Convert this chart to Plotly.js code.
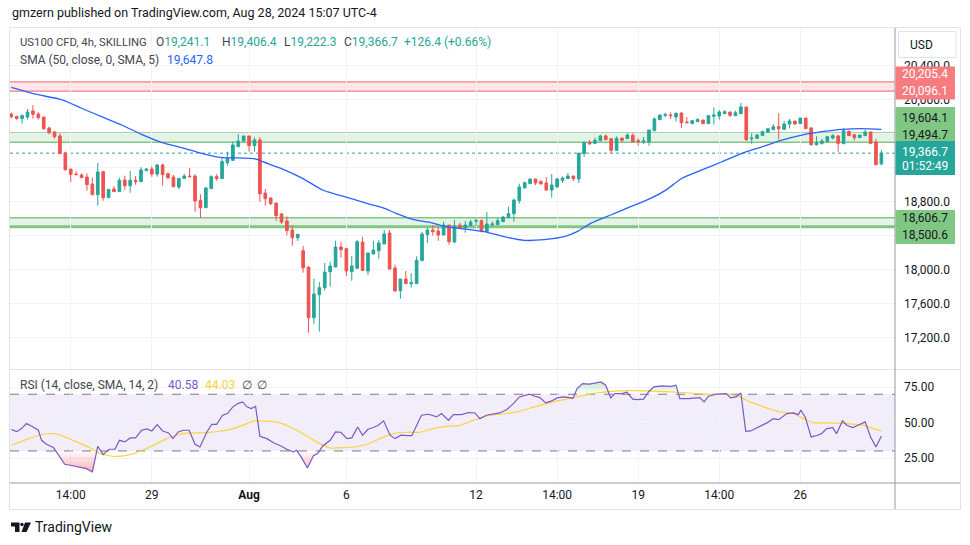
<!DOCTYPE html>
<html><head><meta charset="utf-8">
<script src="https://cdn.plot.ly/plotly-3.0.1.min.js"></script>
<style>html,body{margin:0;padding:0;background:#fff;}#chart{width:970px;height:545px;}</style>
</head><body><div id="chart"></div>
<script>
// ---------- DATA ----------
const opens = [19827,19800,19776,19792,19863,19827,19792,19663,19616,19569,
19369,19180,19121,19110,19086,19004,18878,19149,18843,18945,
18914,19051,18984,19047,19031,19161,19180,19121,19227,19125,
19086,18968,19070,19098,19098,18812,18725,18949,19090,19067,
19255,19282,19443,19510,19569,19455,19522,18898,18839,18780,
18651,18568,18463,18372,18219,18027,17431,17702,17784,17972,
18027,18263,18243,17972,18012,18321,17980,18180,18219,18298,
18427,18016,17749,17886,17831,17831,18102,18408,18463,18451,
18404,18521,18321,18521,18490,18514,18565,18572,18443,18525,
18525,18561,18608,18655,18808,18957,19008,19063,19031,19016,
18933,18969,19047,19067,19098,19063,19365,19494,19482,19514,
19569,19537,19400,19545,19537,19577,19514,19502,19502,19631,
19761,19812,19816,19792,19839,19733,19714,19737,19757,19714,
19800,19804,19831,19851,19808,19831,19910,19537,19541,19573,
19612,19643,19678,19647,19710,19745,19714,19780,19663,19467,
19482,19502,19545,19569,19478,19624,19584,19549,19573,19616,
19498,19241.1];
const highs = [19843,19800,19824,19886,19933,19851,19792,19678,19627,19600,
19384,19180,19153,19129,19129,19078,19251,19157,18941,18980,
19078,19102,19157,19098,19200,19192,19212,19239,19243,19137,
19110,19070,19125,19192,19118,18882,18968,19106,19121,19310,
19384,19502,19592,19569,19569,19553,19553,18945,18851,18780,
18663,18623,18521,18412,18274,18027,17890,17851,18074,18090,
18337,18321,18255,18157,18345,18384,18192,18337,18345,18463,
18463,18055,17886,17980,17953,18153,18443,18490,18521,18498,
18561,18521,18580,18549,18569,18580,18608,18588,18674,18565,
18604,18627,18737,18831,19008,19031,19063,19063,19051,19086,
19121,19074,19094,19133,19098,19372,19502,19522,19549,19584,
19588,19537,19565,19545,19600,19600,19541,19557,19639,19788,
19816,19843,19847,19847,19847,19792,19749,19780,19757,19816,
19906,19874,19874,19851,19867,19957,19910,19600,19592,19631,
19655,19710,19839,19745,19769,19745,19780,19780,19675,19565,
19537,19565,19592,19580,19659,19635,19584,19580,19643,19616,
19533,19406.4];
const lows = [19776,19761,19714,19765,19773,19761,19643,19588,19537,19361,
19157,19027,19114,19078,18925,18878,18749,18808,18843,18914,
18914,18937,18902,18996,19031,19161,19090,19090,18984,19063,
18972,18945,19070,19082,18678,18604,18725,18949,19043,19067,
19220,19275,19443,19502,19384,19384,18796,18749,18757,18572,
18533,18400,18278,18333,17961,17255,17357,17266,17749,17796,
18027,18137,17921,17866,18012,17980,17933,18180,18125,18298,
17996,17737,17655,17831,17784,17831,18102,18310,18396,18337,
18404,18290,18314,18474,18431,18514,18514,18443,18443,18502,
18525,18561,18608,18561,18773,18957,19008,18992,18992,18925,
18843,18961,19016,19067,19039,19016,19322,19467,19482,19514,
19525,19361,19400,19494,19537,19502,19455,19475,19455,19631,
19761,19792,19769,19737,19663,19725,19714,19737,19714,19714,
19702,19761,19831,19792,19808,19831,19510,19478,19541,19573,
19612,19643,19529,19643,19659,19702,19714,19655,19455,19455,
19467,19502,19529,19384,19478,19573,19514,19549,19573,19471,
19231,19222.3];
const closes = [19796,19773,19808,19851,19824,19784,19655,19608,19561,19361,
19172,19118,19114,19078,18996,18878,19145,18843,18941,18914,
19047,18984,19047,19031,19169,19180,19121,19227,19114,19078,
18972,19070,19098,19090,18804,18725,18957,19090,19067,19267,
19306,19463,19510,19569,19455,19522,18890,18831,18772,18631,
18557,18455,18372,18412,18019,17431,17710,17784,17968,18039,
18263,18231,17980,18039,18325,17988,18192,18227,18310,18416,
18004,17745,17886,17831,17843,18106,18416,18463,18443,18404,
18521,18325,18510,18490,18521,18557,18572,18443,18533,18533,
18572,18616,18655,18816,18969,19020,19063,19016,19008,18933,
18992,19063,19074,19098,19067,19365,19494,19475,19518,19569,
19525,19400,19541,19518,19580,19502,19502,19510,19639,19769,
19816,19820,19808,19835,19725,19725,19749,19761,19714,19808,
19816,19851,19855,19812,19843,19910,19525,19545,19580,19620,
19655,19678,19655,19710,19745,19710,19780,19655,19467,19490,
19510,19561,19573,19482,19631,19573,19549,19580,19616,19482,
19231,19366.7];

// SMA(50) line, read at bar positions
const smaIdx = [0,4.5,9.3,13.0,16.7,20.4,24.1,27.8,31.5,35.2,38.2,45.3,46.5,50.2,53.9,57.6,60.1,63.2,66.2,68.7,
71.2,74.3,77.3,80.4,83.8,87.5,91.2,94.9,98.6,102.3,104.7,107.2,110.9,114.6,118.3,121.2,124.1,127.8,131.5,135.2,
138.9,142.6,146.3,150.0,153.7,157.4,161];
const smaVal = [20140,20060,19996,19895,19796,19698,19588,19494,19431,19365,19321,19298,19266,19180,19071,18933,18883,18827,18768,18725,
18659,18589,18554,18502,18475,18443,18384,18341,18349,18384,18443,18541,18639,18737,18835,18935,19071,19169,19266,19365,
19442,19521,19580,19619,19647,19655,19647.8];

// RSI(14)
const rsiIdx = [0,1.0,1.9,2.8,3.8,5.0,5.6,6.5,7.8,8.7,
9.9,10.9,12.7,13.9,15.0,16.0,17.0,18.1,19.2,20.0,
21.0,22.0,23.0,24.1,25.1,26.0,27.0,28.0,29.1,29.9,
30.9,31.8,32.9,34.0,34.9,36.2,37.1,38.0,39.1,40.0,
41.0,41.9,42.8,43.6,44.4,45.2,46.0,47.3,48.6,50.0,
51.1,52.2,52.8,53.7,54.8,55.9,56.7,57.6,59.0,60.0,
61.0,62.1,63.0,64.1,65.0,66.0,67.0,67.9,68.9,70.1,
71.0,72.1,73.3,74.1,75.9,77.2,78.7,79.6,80.9,81.8,
83.3,84.6,85.8,
86.7,87.9,89.2,90.4,91.7,92.9,94.0,95.9,96.9,97.8,
98.9,100.0,101.0,102.2,103.3,103.9,104.7,105.7,107.0,108.0,
109.1,110.0,110.9,111.7,113.0,113.9,115.0,115.8,117.0,117.9,
118.9,120.3,121.6,122.2,123.0,123.7,125.3,126.5,127.4,128.2,
129.0,130.5,131.5,132.3,133.1,134.1,135.0,135.9,136.8,138.2,
139.8,141.0,142.0,143.5,144.7,145.6,146.1,146.9,148.0,149.2,
149.9,150.9,152.0,152.7,153.8,154.6,155.7,156.7,158.0,159.0,
160.0,161];
const rsiVal = [45.1,43.6,45.8,49.3,47.4,44.6,37.5,34.7,32.4,27.1,
20.6,19.9,18.7,17.5,15.2,33.3,27.4,31.2,31.2,37.5,
36.4,39.2,39.2,44.6,45.5,44.1,48.6,44.1,42.7,38.7,
43.4,44.6,44.6,34.7,32.8,43.4,48.8,48.8,55.2,56.4,
61.1,63.4,64.6,61.1,59.9,61.5,40.4,38.7,35.6,33.3,
30.9,29.3,30.5,25.3,18.0,26.7,28.1,33.3,37.5,43.4,
43.2,38.7,39.2,46.9,41.1,45.3,46.5,48.1,51.2,41.1,
38.7,41.1,40.8,40.8,55.2,55.9,54.0,56.4,51.6,55.6,
55.6,57.1,56.8,
52.8,55.2,55.9,56.8,59.2,63.4,68.1,70.0,68.6,67.6,
63.9,65.3,67.4,68.1,67.6,66.9,74.0,77.5,77.1,78.0,
78.7,76.4,67.4,70.5,70.5,71.4,66.5,66.2,66.5,71.6,
75.2,75.9,75.9,75.6,76.4,66.9,66.9,67.6,67.6,64.6,
68.6,70.0,70.5,70.5,67.4,68.1,70.9,43.9,44.1,46.5,
49.8,52.8,52.1,56.4,56.8,55.6,58.7,54.0,39.9,41.1,
42.2,45.8,46.5,42.2,51.2,48.1,46.5,48.1,50.5,39.9,
32.8,40.58];

// RSI-based MA
const maIdx = [0,2.8,5.9,7.8,9.6,12.1,14.6,16.4,18.9,21.4,
23.8,26.3,28.8,31.2,33.7,36.2,38.6,41.1,43.6,44.8,
47.3,49.1,51.6,54.0,56.5,59.0,61.5,63.3,65.8,68.2,
70.7,73.2,75.6,78.1,80.6,83.0,85.5,88.6,91.7,94.1,
97.2,100.9,104.6,108.3,112.6,117.6,122.5,126.8,129.9,132.7,
134.8,136.7,139.2,142.3,144.7,146.6,148.4,151.5,154.6,157.7,
159.5,161];
const maVal = [34.0,38.2,41.8,42.2,40.4,36.4,32.1,28.1,26.2,26.9,
29.8,34.0,38.7,41.8,42.7,42.9,43.9,45.8,49.3,51.2,
50.9,50.5,46.9,42.2,36.4,32.1,32.4,32.8,34.7,38.7,
42.2,43.2,43.2,45.8,47.4,48.1,51.6,55.2,56.4,58.2,
61.5,65.1,68.1,70.9,72.4,72.4,71.6,70.5,70.0,70.0,
68.1,64.6,61.1,57.5,56.4,52.8,50.0,49.8,49.3,48.1,
45.8,44.03];

// Levels drawn on the chart
const redZone = [20096.1, 20205.4];
const greenZoneHigh = [19494.7, 19604.1];
const greenZoneLow = [18500.6, 18606.7];
const lastPrice = 19366.7;

// Axis ticks (labels hidden by the price tags are left blank)
const timeTickIdx = [11, 26, 44, 62, 86, 101, 116, 131, 146];
const timeTickText = ['14:00', '29', '<b>Aug</b>', '6', '12', '14:00', '19', '14:00', '26'];
const priceTicks = [17200, 17600, 18000, 18400, 18800, 19200, 19600, 20000, 20400];
const priceTickText = ['17,200.0', '17,600.0', '18,000.0', '', '18,800.0', '', '', '20,000.0', '20,400.0'];
const rsiTicks = [25, 50, 75];

// Legend texts
const symbolText = 'US100 CFD, 4h, SKILLING';
const ohlcLabels = ['O', 'H', 'L', 'C'];
const ohlcText = ['19,241.1', '19,406.4', '19,222.3', '19,366.7'];
const changeText = '+126.4 (+0.66%)';
const smaLegend = 'SMA (50, close, 0, SMA, 5)';
const smaLast = '19,647.8';
const rsiLegend = 'RSI (14, close, SMA, 14, 2)';
const rsiLast = '40.58';
const maLast = '44.03';
const countdown = '01:52:49';

// ---------- HELPERS ----------
const W = 970, H = 545;
const px = x => x / W;
const py = y => 1 - y / H;
const fmt = v => v.toLocaleString('en-US', {minimumFractionDigits: 1, maximumFractionDigits: 1});
const barIdx = opens.map((_, i) => i);
const GREEN = '#26a69a', RED = '#ef5350';
const FONT = 'Roboto, "Open Sans", sans-serif';

function clipAt(xs, ys, level, below) {
  const X = [], Y = [];
  for (let i = 0; i < xs.length; i++) {
    if (i > 0) {
      const a = ys[i - 1], b = ys[i];
      if ((a - level) * (b - level) < 0) {
        const t = (level - a) / (b - a);
        X.push(xs[i - 1] + t * (xs[i] - xs[i - 1]));
        Y.push(level);
      }
    }
    X.push(xs[i]);
    Y.push(below ? Math.min(ys[i], level) : Math.max(ys[i], level));
  }
  return {X, Y};
}
const os = clipAt(rsiIdx, rsiVal, 30, true);
const ob = clipAt(rsiIdx, rsiVal, 70, false);

// ---------- TRACES ----------
const traces = [
  {type: 'candlestick', x: barIdx, open: opens, high: highs, low: lows, close: closes,
   xaxis: 'x', yaxis: 'y', hoverinfo: 'skip', whiskerwidth: 0,
   increasing: {line: {color: GREEN, width: 1}, fillcolor: GREEN},
   decreasing: {line: {color: RED, width: 1}, fillcolor: RED}},
  {type: 'scatter', mode: 'lines', x: smaIdx, y: smaVal, xaxis: 'x', yaxis: 'y',
   line: {color: '#2962ff', width: 1.3, shape: 'spline', smoothing: 0.6}, hoverinfo: 'skip'},
  // oversold fill
  {type: 'scatter', mode: 'lines', x: os.X, y: os.X.map(() => 30), xaxis: 'x', yaxis: 'y2',
   line: {width: 0, color: 'rgba(0,0,0,0)'}, hoverinfo: 'skip'},
  {type: 'scatter', mode: 'lines', x: os.X, y: os.Y, xaxis: 'x', yaxis: 'y2', fill: 'tonexty',
   fillcolor: 'rgba(242,54,69,0.25)',
   fillgradient: {type: 'vertical', start: 0, stop: 30,
     colorscale: [[0, 'rgba(242,54,69,0.75)'], [1, 'rgba(242,54,69,0.02)']]},
   line: {width: 0, color: 'rgba(0,0,0,0)'}, hoverinfo: 'skip'},
  // overbought fill
  {type: 'scatter', mode: 'lines', x: ob.X, y: ob.X.map(() => 70), xaxis: 'x', yaxis: 'y2',
   line: {width: 0, color: 'rgba(0,0,0,0)'}, hoverinfo: 'skip'},
  {type: 'scatter', mode: 'lines', x: ob.X, y: ob.Y, xaxis: 'x', yaxis: 'y2', fill: 'tonexty',
   fillcolor: 'rgba(76,175,80,0.2)',
   fillgradient: {type: 'vertical', start: 70, stop: 100,
     colorscale: [[0, 'rgba(76,175,80,0.02)'], [1, 'rgba(76,175,80,0.9)']]},
   line: {width: 0, color: 'rgba(0,0,0,0)'}, hoverinfo: 'skip'},
  {type: 'scatter', mode: 'lines', x: maIdx, y: maVal, xaxis: 'x', yaxis: 'y2',
   line: {color: '#f9d342', width: 1.2, shape: 'spline', smoothing: 0.5}, hoverinfo: 'skip'},
  {type: 'scatter', mode: 'lines', x: rsiIdx, y: rsiVal, xaxis: 'x', yaxis: 'y2',
   line: {color: '#7e57c2', width: 1.2}, hoverinfo: 'skip'}
];

// ---------- SHAPES ----------
const hline = (yref, y, color, width, dash) => ({type: 'line', xref: 'paper', x0: px(10), x1: px(895), yref, y0: y, y1: y,
  line: {color, width, dash: dash || 'solid'}, layer: 'below'});
const band = (yref, a, b, fill) => ({type: 'rect', xref: 'paper', x0: px(10), x1: px(895), yref, y0: a, y1: b,
  fillcolor: fill, line: {width: 0}, layer: 'below'});
const prect = (x0, y0, x1, y1, fill, lineColor, lw) => ({type: 'rect', xref: 'paper', yref: 'paper',
  x0: px(x0), x1: px(x1), y0: py(y1), y1: py(y0), fillcolor: fill,
  line: {color: lineColor || 'rgba(0,0,0,0)', width: lw || 0}, layer: 'above'});
const pline = (x0, y0, x1, y1, color, w) => ({type: 'line', xref: 'paper', yref: 'paper',
  x0: px(x0), x1: px(x1), y0: py(y0), y1: py(y1), line: {color, width: w || 1}, layer: 'above'});
const ppath = (pts, fill) => ({type: 'path', xref: 'paper', yref: 'paper',
  path: 'M ' + pts.map(p => px(p[0]).toFixed(5) + ' ' + py(p[1]).toFixed(5)).join(' L ') + ' Z',
  fillcolor: fill, line: {width: 0}, layer: 'above'});

const shapes = [
  band('y', redZone[0], redZone[1], 'rgba(242,54,69,0.12)'),
  hline('y', redZone[1], '#f77c80', 1.2),
  hline('y', redZone[0], '#f77c80', 1.2),
  band('y', greenZoneHigh[0], greenZoneHigh[1], 'rgba(76,175,80,0.15)'),
  hline('y', greenZoneHigh[1], '#81c784', 1.5),
  hline('y', greenZoneHigh[0], '#81c784', 1.5),
  band('y', greenZoneLow[0], greenZoneLow[1], 'rgba(76,175,80,0.15)'),
  hline('y', greenZoneLow[1], '#81c784', 1.5),
  hline('y', greenZoneLow[0], '#81c784', 3),
  hline('y', lastPrice, GREEN, 1, 'dot'),
  band('y2', 30, 70, 'rgba(126,87,194,0.1)'),
  hline('y2', 70, '#787b86', 1, 'dash'),
  hline('y2', 50, 'rgba(120,123,134,0.5)', 1, 'dash'),
  hline('y2', 30, '#787b86', 1, 'dash'),
  // frame & separators
  pline(10, 369.5, 960, 369.5, '#e0e3eb', 1),
  pline(10, 483, 960, 483, '#9598a1', 1),
  pline(895, 28, 895, 509, '#9598a1', 1),
  prect(9.5, 27.5, 960.5, 509.5, 'rgba(0,0,0,0)', '#e0e3eb', 1),
  // price labels on the axis
  prect(895.5, 66.5, 955, 99.5, '#f77c80'),
  prect(895.5, 107, 955, 141, '#81c784'),
  prect(895.5, 141, 955, 175, GREEN),
  prect(895.5, 210, 955, 244, '#81c784'),
  // USD button
  prect(898.5, 31.5, 956, 57.5, '#ffffff', '#e0e3eb', 1),
  // TradingView logo
  ppath([[11, 522.5], [19.5, 522.5], [19.5, 532], [15, 532], [15, 526.5], [11, 526.5]], '#131722'),
  ppath([[25, 522.5], [31, 522.5], [26.5, 532], [21.5, 532]], '#131722'),
  {type: 'circle', xref: 'paper', yref: 'paper', x0: px(20.3), x1: px(23.7), y0: py(526.2), y1: py(522.8),
   fillcolor: '#131722', line: {width: 0}, layer: 'above'}
];

// ---------- ANNOTATIONS ----------
const ann = (x, y, text, o) => Object.assign({xref: 'paper', yref: 'paper', x: px(x), y: py(y), text,
  showarrow: false, xanchor: 'left', yanchor: 'middle', font: {family: FONT, size: 12, color: '#131722'}}, o || {});
const LEG = {family: FONT, size: 12, color: '#434651'};
const annotations = [
  ann(10, 13, 'gmzern published on TradingView.com, Aug 28, 2024 15:07 UTC-4', {font: {family: FONT, size: 12.5, color: '#131722'}}),
  ann(18, 42, symbolText, {font: {family: FONT, size: 11.3, color: '#434651'}}),
  ann(154, 42, ohlcLabels[0] + '<span style="color:' + GREEN + '">' + ohlcText[0] + '</span>', {font: LEG}),
  ann(220, 42, ohlcLabels[1] + '<span style="color:' + GREEN + '">' + ohlcText[1] + '</span>', {font: LEG}),
  ann(282, 42, ohlcLabels[2] + '<span style="color:' + GREEN + '">' + ohlcText[2] + '</span>', {font: LEG}),
  ann(342, 42, ohlcLabels[3] + '<span style="color:' + GREEN + '">' + ohlcText[3] + '</span>', {font: LEG}),
  ann(402, 42, changeText, {font: {family: FONT, size: 12, color: GREEN}}),
  ann(18, 60, smaLegend, {font: LEG}),
  ann(165, 60, smaLast, {font: {family: FONT, size: 12, color: '#2962ff'}}),
  ann(18, 385, rsiLegend, {font: LEG}),
  ann(166, 385, rsiLast, {font: {family: FONT, size: 12, color: '#7e57c2'}}),
  ann(203, 385, maLast, {font: {family: FONT, size: 12, color: '#f7d23c'}}),
  ann(240, 385, '∅', {font: LEG}),
  ann(255, 385, '∅', {font: LEG}),
  ann(908, 45, 'USD', {font: {family: FONT, size: 12, color: '#131722'}}),
  ann(950, 74, fmt(redZone[1]), {xanchor: 'right', font: {family: FONT, size: 12, color: '#ffffff'}}),
  ann(950, 91, fmt(redZone[0]), {xanchor: 'right', font: {family: FONT, size: 12, color: '#ffffff'}}),
  ann(950, 118, fmt(greenZoneHigh[1]), {xanchor: 'right', font: {family: FONT, size: 12, color: '#131722'}}),
  ann(950, 134.5, fmt(greenZoneHigh[0]), {xanchor: 'right', font: {family: FONT, size: 12, color: '#131722'}}),
  ann(950, 152, fmt(lastPrice), {xanchor: 'right', font: {family: FONT, size: 12, color: '#ffffff'}}),
  ann(950, 166, countdown, {xanchor: 'right', font: {family: FONT, size: 12, color: '#ffffff'}}),
  ann(950, 218, fmt(greenZoneLow[1]), {xanchor: 'right', font: {family: FONT, size: 12, color: '#131722'}}),
  ann(950, 235, fmt(greenZoneLow[0]), {xanchor: 'right', font: {family: FONT, size: 12, color: '#131722'}}),
  ann(33, 527, 'TradingView', {font: {family: FONT, size: 14, color: '#131722'}})
];

// ---------- LAYOUT ----------
const layout = {
  width: W, height: H, margin: {l: 0, r: 0, t: 0, b: 0},
  paper_bgcolor: '#ffffff', plot_bgcolor: 'rgba(0,0,0,0)', showlegend: false,
  font: {family: FONT, size: 12, color: '#131722'},
  boxgap: 0.3, boxgroupgap: 0.3,
  xaxis: {domain: [px(10), px(895)], range: [-0.24, 163.52], anchor: 'y2',
    tickmode: 'array', tickvals: timeTickIdx, ticktext: timeTickText,
    showgrid: true, gridcolor: '#f0f3fa', gridwidth: 1, zeroline: false, showline: false, ticks: '',
    ticklabelstandoff: 3,
    tickfont: {family: FONT, size: 12, color: '#131722'}, rangeslider: {visible: false}, fixedrange: true},
  yaxis: {domain: [py(369), py(28)], range: [16827.3, 20839.4], side: 'right', anchor: 'x',
    tickmode: 'array', tickvals: priceTicks, ticktext: priceTickText,
    showgrid: true, gridcolor: '#f0f3fa', zeroline: false, showline: false, ticks: '',
    ticklabelstandoff: 8, tickfont: {family: FONT, size: 12, color: '#131722'}, fixedrange: true},
  yaxis2: {domain: [py(483), py(370)], range: [7.4, 87.1], side: 'right', anchor: 'x',
    tickmode: 'array', tickvals: rsiTicks, ticktext: rsiTicks.map(v => v.toFixed(2)),
    showgrid: true, gridcolor: '#f0f3fa', zeroline: false, showline: false, ticks: '',
    ticklabelstandoff: 8, tickfont: {family: FONT, size: 12, color: '#131722'}, fixedrange: true},
  shapes, annotations
};

Plotly.newPlot('chart', traces, layout, {displayModeBar: false, staticPlot: true});
</script></body></html>
